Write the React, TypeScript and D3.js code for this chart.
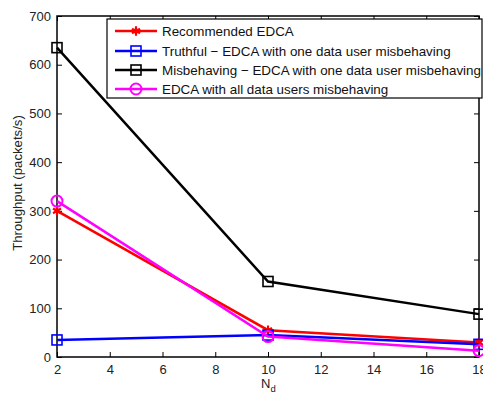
import { useEffect, useRef } from "react";
import * as d3 from "d3";

const nd = [2, 10, 18];
const recommended = [300, 55, 30];
const truthful = [35, 45, 26];
const misbehaving = [635, 155, 88];
const allMisbehaving = [320, 42, 13];
const xTicks = [2, 4, 6, 8, 10, 12, 14, 16, 18];
const yTicks = [0, 100, 200, 300, 400, 500, 600, 700];

const seriesNames = [
  "Recommended EDCA",
  "Truthful \u2212 EDCA with one data user misbehaving",
  "Misbehaving \u2212 EDCA with one data user misbehaving",
  "EDCA with all data users misbehaving",
];

export default function App() {
  const ref = useRef(null);

  useEffect(() => {
    const svg = d3.select(ref.current);
    svg.selectAll("*").remove();

    const left = 57;
    const right = 479;
    const top = 16;
    const bottom = 357;
    const font = "Arial, 'Liberation Sans', sans-serif";

    const x = d3.scaleLinear().domain([2, 18]).range([left, right]);
    const y = d3.scaleLinear().domain([0, 700]).range([bottom, top]);

    svg.append("rect").attr("width", 483).attr("height", 396).attr("fill", "#fff");

    // axes box
    svg
      .append("rect")
      .attr("x", left)
      .attr("y", top)
      .attr("width", right - left)
      .attr("height", bottom - top)
      .attr("fill", "none")
      .attr("stroke", "#000")
      .attr("stroke-width", 1.5);

    const bottomAxis = svg
      .append("g")
      .attr("transform", `translate(0,${bottom})`)
      .call(d3.axisBottom(x).tickValues(xTicks).tickSizeInner(-5).tickSizeOuter(0).tickPadding(8));
    const topAxis = svg
      .append("g")
      .attr("transform", `translate(0,${top})`)
      .call(d3.axisTop(x).tickValues(xTicks).tickSizeInner(-5).tickSizeOuter(0).tickFormat(() => ""));
    const leftAxis = svg
      .append("g")
      .attr("transform", `translate(${left},0)`)
      .call(d3.axisLeft(y).tickValues(yTicks).tickSizeInner(-5).tickSizeOuter(0).tickPadding(6));
    const rightAxis = svg
      .append("g")
      .attr("transform", `translate(${right},0)`)
      .call(d3.axisRight(y).tickValues(yTicks).tickSizeInner(-5).tickSizeOuter(0).tickFormat(() => ""));

    [bottomAxis, topAxis, leftAxis, rightAxis].forEach((g) => {
      g.select(".domain").remove();
      g.selectAll("line").attr("stroke", "#000").attr("stroke-width", 1);
      g.selectAll("text").attr("font-family", font).attr("font-size", 13).attr("fill", "#222");
    });

    const line = d3
      .line<number>()
      .x((_, i) => x(nd[i]))
      .y((d) => y(d));

    const series = [
      { values: recommended, color: "#ff0000", marker: "star" },
      { values: truthful, color: "#0000ff", marker: "square" },
      { values: misbehaving, color: "#000000", marker: "square" },
      { values: allMisbehaving, color: "#ff00ff", marker: "circle" },
    ];

    const drawMarker = (g, type, cx, cy, color) => {
      if (type === "square") {
        g.append("rect")
          .attr("x", cx - 5)
          .attr("y", cy - 5)
          .attr("width", 10)
          .attr("height", 10)
          .attr("fill", "none")
          .attr("stroke", color)
          .attr("stroke-width", 1.6);
      } else if (type === "circle") {
        g.append("circle")
          .attr("cx", cx)
          .attr("cy", cy)
          .attr("r", 5.5)
          .attr("fill", "none")
          .attr("stroke", color)
          .attr("stroke-width", 2);
      } else {
        g.append("path")
          .attr("transform", `translate(${cx},${cy})`)
          .attr("d", d3.symbol(d3.symbolAsterisk, 60)())
          .attr("fill", "none")
          .attr("stroke", color)
          .attr("stroke-width", 2.2);
        g.append("circle").attr("cx", cx).attr("cy", cy).attr("r", 2.5).attr("fill", color);
      }
    };

    const plot = svg.append("g");
    series.forEach((s) => {
      plot
        .append("path")
        .attr("d", line(s.values))
        .attr("fill", "none")
        .attr("stroke", s.color)
        .attr("stroke-width", 2.5);
      s.values.forEach((v, i) => drawMarker(plot, s.marker, x(nd[i]), y(v), s.color));
    });

    // legend
    const lg = svg.append("g");
    lg.append("rect")
      .attr("x", 107)
      .attr("y", 19)
      .attr("width", 375)
      .attr("height", 79)
      .attr("fill", "#fff")
      .attr("stroke", "#000")
      .attr("stroke-width", 1.2);
    const rowY = [31, 51, 70, 89];
    series.forEach((s, i) => {
      lg.append("line")
        .attr("x1", 115)
        .attr("x2", 157)
        .attr("y1", rowY[i])
        .attr("y2", rowY[i])
        .attr("stroke", s.color)
        .attr("stroke-width", 2.5);
      drawMarker(lg, s.marker, 136, rowY[i], s.color);
      lg.append("text")
        .attr("x", 162)
        .attr("y", rowY[i])
        .attr("dy", "0.35em")
        .attr("font-family", font)
        .attr("font-size", 13.4)
        .attr("fill", "#111")
        .text(seriesNames[i]);
    });

    // axis labels
    svg
      .append("text")
      .attr("transform", `translate(22,${183}) rotate(-90)`)
      .attr("text-anchor", "middle")
      .attr("font-family", font)
      .attr("font-size", 13.2)
      .attr("fill", "#222")
      .text("Throughput (packets/s)");

    const xl = svg
      .append("text")
      .attr("x", 261)
      .attr("y", 388)
      .attr("font-family", font)
      .attr("font-size", 13)
      .attr("fill", "#222");
    xl.append("tspan").text("N");
    xl.append("tspan").attr("dy", 4).attr("font-size", 9.5).text("d");
  }, []);

  return (
    <svg
      ref={ref}
      width={483}
      height={396}
      style={{ position: "absolute", left: 0, top: 0, display: "block" }}
    />
  );
}
